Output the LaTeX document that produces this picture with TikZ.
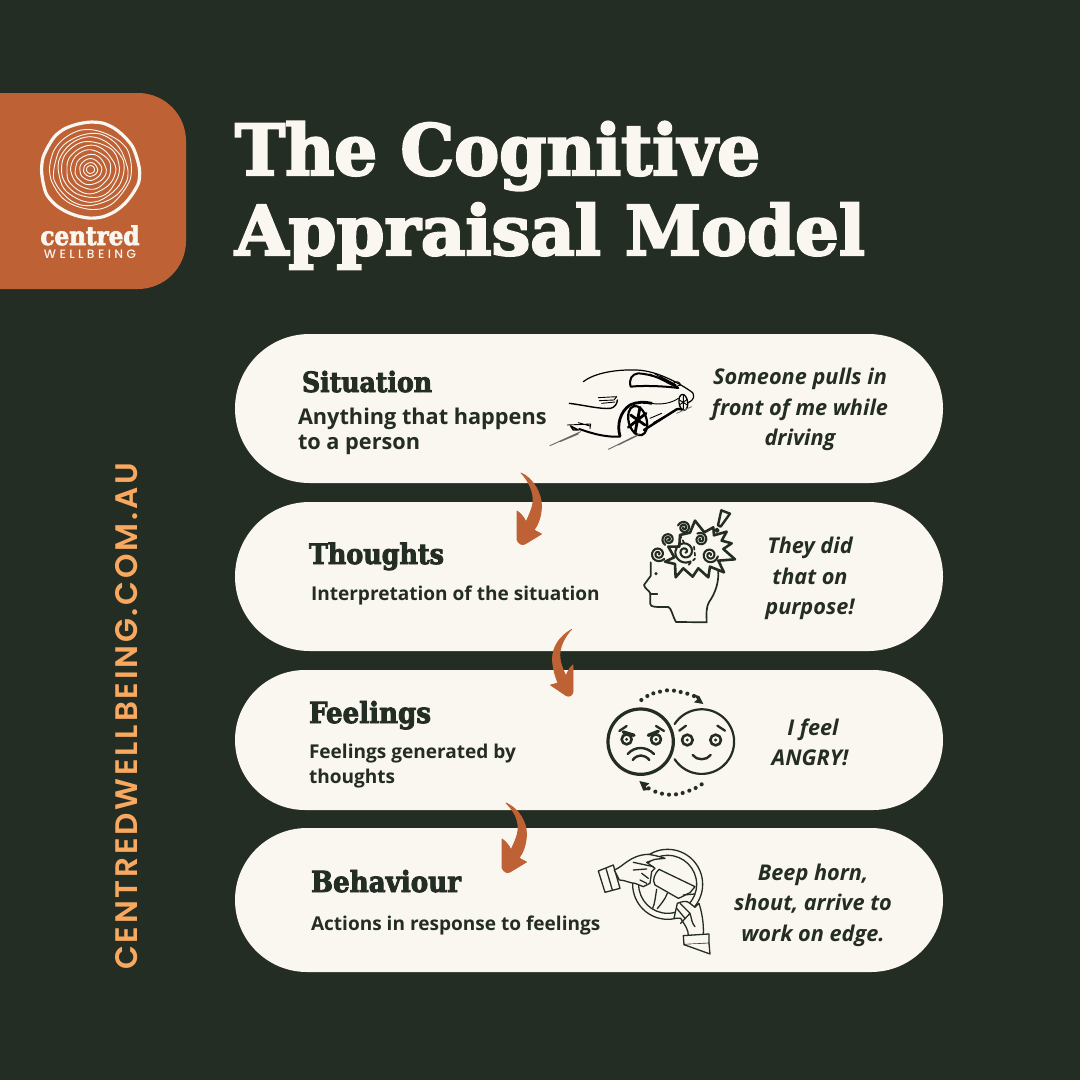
\documentclass[tikz,border=0pt]{standalone}
\usepackage{fontspec}
\setmainfont{Open Sans}
\newfontfamily\headfont[FakeBold=3]{DejaVu Serif Condensed Bold}
\newfontfamily\urlfont[LetterSpace=9]{Poppins SemiBold}
\newfontfamily\wellfont[LetterSpace=28]{Poppins Medium}
\definecolor{bgdark}{HTML}{242D23}
\definecolor{cream}{HTML}{FAF7F0}
\definecolor{rust}{HTML}{BE6236}
\definecolor{peach}{HTML}{F9A95F}
\tikzset{
  pill/.style={fill=cream,draw=none,rounded corners=#1,minimum width=708pt,inner sep=0pt},
  lbl/.style={inner sep=0pt,outer sep=0pt,anchor=base west,text=bgdark},
  ttl/.style={inner sep=0pt,outer sep=0pt,anchor=base west,text=cream},
  hd/.style={lbl},
  body/.style={lbl,font=\bfseries\fontsize{19.05}{19.05}\selectfont},
  bodybig/.style={lbl,font=\bfseries\fontsize{21.7}{21.7}\selectfont},
  say/.style={inner sep=0pt,anchor=base,text=bgdark,font=\bfseries\itshape\fontsize{21.7}{21.7}\selectfont},
  ico/.style={draw=bgdark,line width=1.7pt,line cap=round,line join=round},
  icot/.style={ico,line width=2.4pt},
  spir/.style={ico,line width=2.1pt},
  carl/.style={draw=black,line width=.9pt,line cap=round,line join=round},
  cart/.style={draw=black,line width=2pt,line cap=round,line join=round},
  wheel/.style={ico,line width=1.3pt},
  zoomb/.style={shift={(#1)},x=.3333pt,y=-.3333pt},
  ring/.style={draw=cream,line width=#1},
  curvedarrow/.style={fill=rust,draw=rust,line width=.8pt,line join=round}
}
\newcommand{\fitw}[2]{\resizebox{#1pt}{!}{#2}}
\newcommand{\spiral}[4]{% cx cy r start
  \draw[spir] plot[smooth,domain=0:4.0,samples=30,variable=\t] ({#1+#3*(1-\t/4.4)*cos(#4+\t*360/2)},{#2+#3*(1-\t/4.4)*sin(#4+\t*360/2)});
}
\begin{document}
\begin{tikzpicture}[x=1pt,y=-1pt]
\useasboundingbox (0,0) rectangle (1080,1080);
\fill[bgdark] (0,0) rectangle (1080,1080);

% badge
\begin{scope}
\clip (0,0) rectangle (1080,1080);
\fill[rust,rounded corners=48pt] (-80,93) rectangle (186,289);
\end{scope}
\foreach \r/\p/\a in {4/0/.02,7/30/.03,11/80/.03,15.5/20/.03,20/140/.03,24.5/60/.03,29/200/.025,33/100/.025,37/10/.025,41/170/.022}{
  \draw[ring=.9pt] plot[smooth cycle,domain=0:345,samples=24,variable=\t]
    ({90.5+\r*cos(\t)*(1+\a*sin(3*\t+\p)+.6*\a*sin(7*\t+2*\p))},{169.5+\r*sin(\t)*(.97+\a*sin(4*\t+\p))});
}
\draw[ring=3.2pt] plot[smooth cycle,domain=0:345,samples=24,variable=\t]
    ({90+49*cos(\t)*(1+.018*sin(3*\t+40)+.012*sin(8*\t))},{170+48*sin(\t)*(1+.012*sin(5*\t+80))});
\node[ttl] (logoname) at (40.5,245) {\fitw{99}{\headfont centred}};
\node[ttl] (logosub) at (44,258.5) {\fitw{92}{\wellfont WELLBEING}};

% title
\node[ttl] (title1) at (235,175) {\fitw{525}{\scalebox{1}[.94]{\headfont The Cognitive}}};
\node[ttl] (title2) at (235,255) {\fitw{630}{\scalebox{1}[.9]{\headfont Appraisal Model}}};

% url
\node[inner sep=0pt,anchor=base west,rotate=90,text=peach] (url) at (137,970) {\fitw{507}{\urlfont CENTREDWELLBEING.COM.AU}};

% pills
\node[pill=74.5pt,minimum height=149pt] (situation) at (589,408.5) {};
\node[pill=74.5pt,minimum height=149pt] (thoughts) at (589,576.5) {};
\node[pill=70pt,minimum height=140pt] (feelings) at (589,740) {};
\node[pill=72pt,minimum height=144pt] (behaviour) at (589,900) {};

% texts
\node[hd] (h1) at (302,392) {\fitw{130}{\headfont Situation}};
\node[bodybig] (b1a) at (298,424) {Anything that happens};
\node[bodybig] (b1b) at (298,449) {to a person};
\node[hd] (h2) at (309,564) {\fitw{135}{\headfont Thoughts}};
\node[body] (b2) at (311,600) {Interpretation of the situation};
\node[hd] (h3) at (309,723) {\fitw{122}{\headfont Feelings}};
\node[body] (b3a) at (309,758) {Feelings generated by};
\node[body] (b3b) at (309,783) {thoughts};
\node[hd] (h4) at (311,892) {\fitw{150}{\headfont Behaviour}};
\node[body] (b4) at (311,930) {Actions in response to feelings};

\node[say] (s1a) at (800,384) {Someone pulls in};
\node[say] (s1b) at (800,415) {front of me while};
\node[say] (s1c) at (800,445) {driving};
\node[say] (s2a) at (810,553) {They did};
\node[say] (s2b) at (810,584) {that on};
\node[say] (s2c) at (810,614) {purpose!};
\node[say] (s3a) at (813,735) {I feel};
\node[say] (s3b) at (810,765) {ANGRY!};
\node[say] (s4a) at (813,880) {Beep horn,};
\node[say] (s4b) at (813,910) {shout, arrive to};
\node[say] (s4c) at (813,941) {work on edge.};

% arrows between the pills
\filldraw[curvedarrow] (521,473) .. controls (533,478) and (542,494) .. (541.5,507)
  .. controls (541,517) and (538,525) .. (534,530) -- (541.5,534) -- (525,544) .. controls (522,545.5) and (519,544) .. (517,540)
  -- (517,511) .. controls (520,513) and (524,517) .. (526,522)
  .. controls (530,513) and (534,505) .. (533,497) .. controls (532,488) and (527,479) .. (521,473) -- cycle;
\filldraw[curvedarrow] (571.5,629.5) .. controls (560,636) and (552,647) .. (552.5,660)
  .. controls (553,668) and (555,676) .. (558,683) -- (550.5,685) -- (566,695.5) .. controls (569,697) and (572,696) .. (573,692)
  -- (573,665) .. controls (570,667) and (568,671) .. (566,676)
  .. controls (562,668) and (559,660) .. (560,652) .. controls (561,644) and (566,635) .. (571.5,629.5) -- cycle;
\begin{scope}[shift={(-15,328)}]
\filldraw[curvedarrow] (521,475) .. controls (533,480) and (542,494) .. (541.5,507)
  .. controls (541,517) and (538,525) .. (534,530) -- (541.5,534) -- (525,544) .. controls (522,545.5) and (519,544) .. (517,540)
  -- (517,511) .. controls (520,513) and (524,517) .. (526,522)
  .. controls (530,513) and (534,505) .. (533,497) .. controls (532,488) and (527,481) .. (521,475) -- cycle;
\end{scope}

% car icon
\begin{scope}[zoomb={540,350}]
\draw[carl,line width=1.2pt] (130,95) .. controls (165,68) and (230,58) .. (290,60) .. controls (350,62) and (420,100) .. (458,128) .. controls (464,138) and (462,150) .. (445,158);
\draw[cart] (272,110) .. controls (266,88) and (275,72) .. (295,70) .. controls (335,72) and (385,92) .. (415,114) .. controls (370,108) and (310,106) .. (272,110) -- cycle;
\draw[carl] (330,72) -- (400,108) (345,72) -- (405,106) (360,78) -- (408,104);
\draw[carl] (402,98) .. controls (410,92) and (420,96) .. (422,105) -- (412,108);
\draw[cart,line width=1.4pt] (88,160) .. controls (130,165) and (180,178) .. (212,175) .. controls (225,172) and (232,160) .. (232,150);
\draw[carl] (175,143) -- (230,140) -- (222,150) -- (178,152) (185,160) -- (225,156);
\draw[carl] (82,225) -- (152,222) -- (150,236) (115,218) -- (150,228);
\draw[cart,line width=1.4pt] (92,228) -- (115,240) -- (100,240) -- cycle;
\draw[cart] (118,237) .. controls (150,248) and (190,262) .. (240,260);
\draw[cart,line width=2.8pt] (240,258) .. controls (230,225) and (240,185) .. (270,165) .. controls (290,155) and (315,155) .. (335,160);
\draw[carl] (335,160) .. controls (360,165) and (395,160) .. (415,145);
\draw[cart,line width=2.2pt,rotate around={15:(293,212)}] (293,212) ellipse[x radius=27,y radius=45];
\draw[cart,line width=2.8pt] (272,195) -- (315,225) (300,172) -- (285,250) (265,232) -- (318,190);
\draw[cart,line width=2.4pt] (312,240) -- (410,178) .. controls (420,175) and (425,178) .. (428,180);
\draw[carl] (330,205) -- (365,190) (340,218) -- (375,198);
\draw[cart,line width=1.3pt,rotate around={8:(430,157)}] (430,157) ellipse[x radius=13,y radius=24];
\draw[carl] (418,150) -- (442,165) (430,135) -- (430,180) (418,165) -- (442,148);
\draw[carl,line width=.9pt,black!60] (30,287) -- (122,245) (60,275) -- (115,252);
\draw[carl,line width=.9pt,black!60] (205,298) -- (298,252) (235,285) -- (290,258);
\draw[carl,black!50] (410,190) -- (455,170);
\end{scope}

% head icon
\begin{scope}[zoomb={540,350}]
\draw[ico] (332,637) -- (332,678) -- (312,705) .. controls (314,716) and (328,722) .. (331,730) -- (331,762) .. controls (332,772) and (345,771) .. (385,771) .. controls (395,775) and (398,800) .. (408,816) -- (500,817) .. controls (500,790) and (497,775) .. (508,755) .. controls (525,730) and (537,700) .. (535,660);
\draw[ico] (331,733) -- (352,733);
\fill[bgdark] (348,671) circle[radius=5];
\draw[icot,line width=2.6pt,fill=cream] (375,635) -- (403,622) -- (385,590) -- (418,590) -- (420,555) -- (450,548) -- (465,512) -- (493,547) -- (520,532) -- (522,556) -- (560,545) -- (545,572) -- (575,580) -- (550,597) -- (585,628) -- (535,632) -- (552,667) -- (510,650) -- (505,682) -- (475,655) -- (458,680) -- (430,655) -- (407,682) -- (405,642) -- cycle;
\spiral{355}{612}{23}{40}
\spiral{385}{568}{19}{120}
\spiral{432}{533}{19}{200}
\spiral{435}{605}{34}{60}
\spiral{482}{568}{20}{240}
\spiral{510}{615}{24}{10}
\draw[ico,dashed] (462,590) -- (466,625) -- (445,645);
\draw[ico,dashed] (420,555) -- (433,580);
\draw[icot,fill=cream] (544,481) -- (570,491) -- (542,530) -- (534,526) -- cycle;
\draw[ico,line width=2pt] (531,541) circle[radius=5];
\end{scope}

% faces icon
\begin{scope}[zoomb={580,670}]
\draw[ico,line width=2.2pt] (284,162) arc[start angle=-147,end angle=147,radius=97];
\draw[ico,line width=3.2pt] (182,215) circle[radius=98];
% angry
\draw[ico,line width=2.3pt] (118,183) -- (140,168) (228,168) -- (252,183);
\foreach \cx in {140,228}{
  \draw[ico,line width=2.6pt] (\cx,208) circle[radius=15];
  \fill[bgdark] (\cx,208) circle[radius=5];
}
\draw[ico,line width=3.4pt] (130,186) -- (162,196) (205,196) -- (235,184);
\draw[ico,line width=2.4pt] (143,252) .. controls (165,228) and (198,228) .. (222,252);
\draw[ico,line width=2.4pt] (158,270) .. controls (172,252) and (193,252) .. (208,270);
% happy
\draw[ico,line width=2.3pt] (298,182) -- (318,167) (412,167) -- (435,182);
\foreach \cx in {322,407}{
  \draw[ico,line width=2.6pt] (\cx,210) circle[radius=16];
  \fill[bgdark] (\cx,210) circle[radius=5];
}
\draw[ico,line width=2.4pt] (338,255) .. controls (350,272) and (380,272) .. (392,255);
% dots
\foreach \px/\py in {184/90, 202/78, 220/70, 240/65, 261/61, 282/62, 302/66, 322/71, 342/78}
  \fill[bgdark] (\px,\py) circle[radius=6.2];
\fill[bgdark] (340,73) -- (358,78) -- (370,102) -- (342,97) -- (352,88) -- cycle;
\foreach \px/\py in {365/343, 347/354, 328/362, 308/369, 288/373, 267/374, 246/371, 226/365, 206/355}
  \fill[bgdark] (\px,\py) circle[radius=6.2];
\fill[bgdark] (178,333) -- (208,340) -- (197,350) -- (205,360) -- (190,362) -- cycle;
\end{scope}

% steering wheel icon
\begin{scope}[zoomb={580,670}]
\draw[wheel] (263,643) circle[radius=105];
\draw[wheel] (263,643) circle[radius=87];
\draw[wheel,fill=cream] (237,598) -- (345,650) -- (330,668) .. controls (320,672) and (305,682) .. (295,685) -- (225,645) .. controls (215,630) and (225,610) .. (237,598) -- cycle;
\draw[wheel] (230,658) .. controls (226,680) and (225,700) .. (218,715) (262,670) .. controls (255,690) and (240,705) .. (232,716) (345,672) -- (310,675);
\draw[wheel,fill=cream] (55,603) -- (100,585) -- (120,655) -- (75,667) -- cycle;
\draw[wheel] (78,595) -- (97,660);
\draw[wheel,fill=cream] (103,600) .. controls (130,590) and (150,555) .. (205,553) .. controls (220,555) and (240,560) .. (255,565) -- (225,568) -- (200,577) -- (225,595) -- (215,605) -- (210,640) -- (190,650) -- (165,640) .. controls (150,640) and (135,630) .. (118,630) -- cycle;
\draw[wheel] (160,577) -- (220,590) (160,600) -- (200,597) (185,610) -- (205,625) (180,630) -- (200,640);
\draw[wheel,fill=cream] (325,797) .. controls (325,780) and (318,770) .. (302,745) -- (282,745) -- (292,700) .. controls (305,695) and (320,690) .. (330,700) -- (345,712) -- (357,700) .. controls (365,725) and (372,760) .. (370,795) -- cycle;
\draw[wheel] (300,700) -- (330,730) -- (302,760) (290,715) -- (315,745) (330,730) .. controls (335,745) and (335,760) .. (345,770);
\draw[wheel,fill=cream] (310,797) -- (387,792) -- (387,820) -- (312,824) -- cycle;
\draw[wheel,fill=cream] (312,824) -- (390,852) -- (387,820);
\end{scope}
\end{tikzpicture}
\end{document}
